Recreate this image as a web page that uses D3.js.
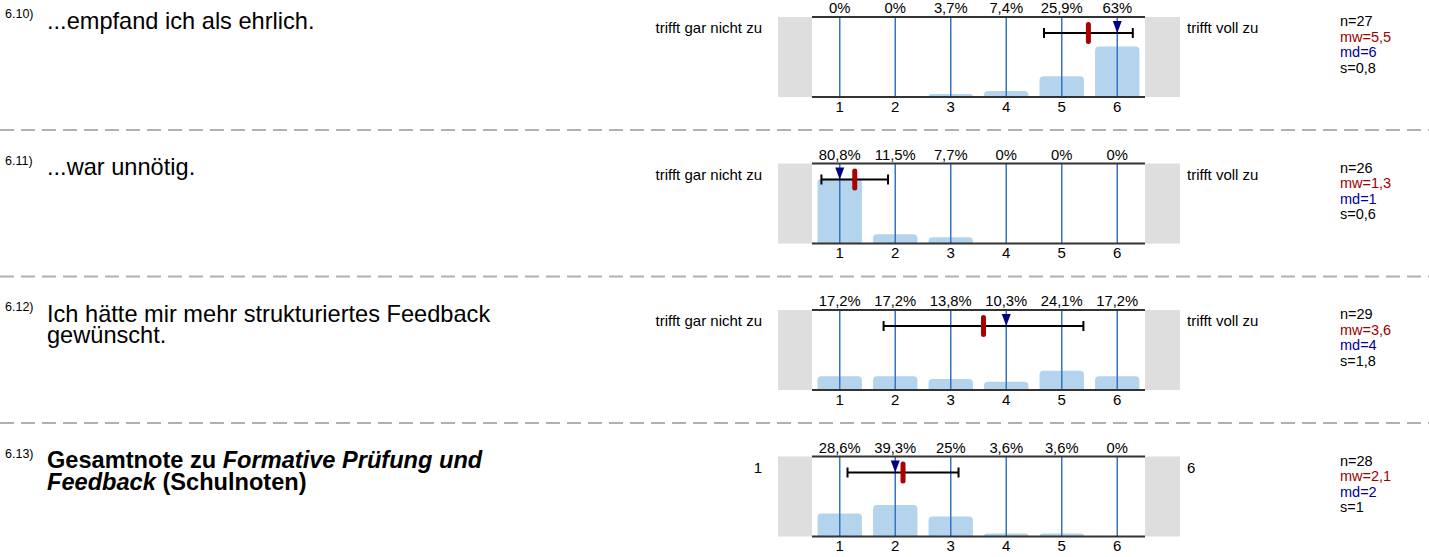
<!DOCTYPE html>
<html>
<head>
<meta charset="utf-8">
<script src="https://cdn.jsdelivr.net/npm/d3@7"></script>
<style>
  html, body { margin: 0; padding: 0; background: #fff; }
  svg { display: block; font-family: "Liberation Sans", Arial, Helvetica, sans-serif; }
</style>
</head>
<body>
<svg id="chart" width="1429" height="557"></svg>
<script>
// Survey block 6.10 – 6.13: answer distribution per item (percent of respondents)
const questionIds = ["6.10)", "6.11)", "6.12)", "6.13)"];
const questionLines = [
  [[{ t: "...empfand ich als ehrlich." }]],
  [[{ t: "...war unnötig." }]],
  [[{ t: "Ich hätte mir mehr strukturiertes Feedback" }], [{ t: "gewünscht." }]],
  [[{ t: "Gesamtnote zu ", b: true }, { t: "Formative Prüfung und", b: true, i: true }],
   [{ t: "Feedback", b: true, i: true }, { t: " (Schulnoten)", b: true }]]
];
const categories = [1, 2, 3, 4, 5, 6];
const percents = [
  [0, 0, 3.7, 7.4, 25.9, 63],
  [80.8, 11.5, 7.7, 0, 0, 0],
  [17.2, 17.2, 13.8, 10.3, 24.1, 17.2],
  [28.6, 39.3, 25, 3.6, 3.6, 0]
];
const leftLabels = ["trifft gar nicht zu", "trifft gar nicht zu", "trifft gar nicht zu", "1"];
const rightLabels = ["trifft voll zu", "trifft voll zu", "trifft voll zu", "6"];
const nValues = [27, 26, 29, 28];
const meanValues = [5.48, 1.27, 3.59, 2.14];
const medianValues = [6, 1, 4, 2];
const sdValues = [0.8, 0.6, 1.8, 1.0];

const svg = d3.select("#chart");
const plotLeft = 812, plotRight = 1145, plotH = 80;
const panelTops = [17, 163.5, 310, 456.5];
const separators = [130, 276.5, 423];

const x = d3.scaleBand().domain(categories).range([plotLeft, plotRight])
  .paddingInner(0.2).paddingOuter(0.1);
const xVal = d3.scaleLinear().domain([1, 6])
  .range([x(1) + x.bandwidth() / 2, x(6) + x.bandwidth() / 2]);
const comma = v => String(v).replace(".", ",");
const fmt1 = v => { const s = v.toFixed(1).replace(".", ","); return s.endsWith(",0") ? s.slice(0, -2) : s; };

// dashed separators between items
svg.selectAll("line.sep").data(separators).join("line")
  .attr("class", "sep")
  .attr("x1", 0).attr("x2", 1429)
  .attr("y1", d => d).attr("y2", d => d)
  .attr("stroke", "#b0b0b0").attr("stroke-width", 2)
  .attr("stroke-dasharray", "14 7");

panelTops.forEach((top, qi) => {
  const g = svg.append("g");
  const bottom = top + plotH;
  const y = d3.scaleLinear().domain([0, 100]).range([bottom, top]);

  // item number and question text
  g.append("text").attr("x", 5).attr("y", top + 1)
    .attr("font-size", 12.5).attr("fill", "#000").text(questionIds[qi]);
  questionLines[qi].forEach((line, li) => {
    const t = g.append("text").attr("x", 47).attr("y", top + 11.5 + li * 21.5)
      .attr("font-size", 23.6).attr("fill", "#000");
    line.forEach(seg => {
      t.append("tspan").text(seg.t)
        .attr("font-weight", seg.b ? "bold" : null)
        .attr("font-style", seg.i ? "italic" : null);
    });
  });

  // grey end boxes
  g.append("rect").attr("x", 778).attr("y", top).attr("width", plotLeft - 778).attr("height", plotH)
    .attr("fill", "#dedede");
  g.append("rect").attr("x", plotRight).attr("y", top).attr("width", 1180 - plotRight).attr("height", plotH)
    .attr("fill", "#dedede");

  // scale end labels
  g.append("text").attr("x", 762).attr("y", top + 16).attr("text-anchor", "end")
    .attr("font-size", 15).text(leftLabels[qi]);
  g.append("text").attr("x", 1187).attr("y", top + 16)
    .attr("font-size", 15).text(rightLabels[qi]);

  // bars with rounded tops
  const r = 4;
  g.selectAll("path.bar").data(categories.map((c, i) => ({ c, v: percents[qi][i] })).filter(d => d.v > 0))
    .join("path").attr("class", "bar")
    .attr("fill", "#b3d4ec")
    .attr("d", d => {
      const x0 = x(d.c), w = x.bandwidth(), yt = y(d.v), h = bottom - yt;
      const rr = Math.min(r, h, w / 2);
      return `M${x0},${bottom}V${yt + rr}Q${x0},${yt} ${x0 + rr},${yt}H${x0 + w - rr}Q${x0 + w},${yt} ${x0 + w},${yt + rr}V${bottom}Z`;
    });

  // vertical category lines
  g.selectAll("line.grid").data(categories).join("line").attr("class", "grid")
    .attr("x1", d => x(d) + x.bandwidth() / 2).attr("x2", d => x(d) + x.bandwidth() / 2)
    .attr("y1", top).attr("y2", bottom)
    .attr("stroke", "#3574c0").attr("stroke-width", 1.5);

  // top and bottom rules
  [top, bottom].forEach(yy => {
    g.append("line").attr("x1", plotLeft).attr("x2", plotRight).attr("y1", yy).attr("y2", yy)
      .attr("stroke", "#333").attr("stroke-width", 2);
  });

  // percentage labels
  g.selectAll("text.pct").data(categories).join("text").attr("class", "pct")
    .attr("x", d => x(d) + x.bandwidth() / 2).attr("y", top - 4)
    .attr("text-anchor", "middle").attr("font-size", 14.8)
    .text((d, i) => comma(percents[qi][i]) + "%");

  // category tick labels
  const axis = d3.axisBottom(x).tickSize(0).tickPadding(4);
  const ax = g.append("g").attr("transform", `translate(0,${bottom})`).call(axis);
  ax.select(".domain").remove();
  ax.selectAll("text").attr("font-size", 15).attr("fill", "#000")
    .attr("font-family", "Liberation Sans, Arial, sans-serif");

  // mean +/- sd whisker
  const ey = top + 16;
  const m = meanValues[qi], s = sdValues[qi];
  const lo = xVal(m - s), hi = xVal(m + s);
  g.append("line").attr("x1", lo).attr("x2", hi).attr("y1", ey).attr("y2", ey)
    .attr("stroke", "#000").attr("stroke-width", 2);
  [lo, hi].forEach(xx => g.append("line").attr("x1", xx).attr("x2", xx)
    .attr("y1", ey - 5).attr("y2", ey + 5).attr("stroke", "#000").attr("stroke-width", 2));

  // median marker
  const mx = xVal(medianValues[qi]);
  g.append("path").attr("d", `M${mx - 4.5},${ey - 12}L${mx + 4.5},${ey - 12}L${mx},${ey}Z`)
    .attr("fill", "#000080");

  // mean marker
  const meanX = xVal(m);
  g.append("rect").attr("x", meanX - 2.5).attr("y", ey - 11).attr("width", 5).attr("height", 22)
    .attr("rx", 2.5).attr("fill", "#aa0000");

  // summary statistics
  const stats = [
    { t: "n=" + nValues[qi], c: "#000" },
    { t: "mw=" + fmt1(m), c: "#990000" },
    { t: "md=" + medianValues[qi], c: "#000099" },
    { t: "s=" + fmt1(s), c: "#000" }
  ];
  stats.forEach((st, si) => {
    g.append("text").attr("x", 1340).attr("y", top + 9 + si * 15.5)
      .attr("font-size", 14.5).attr("fill", st.c).text(st.t);
  });
});
</script>
</body>
</html>
